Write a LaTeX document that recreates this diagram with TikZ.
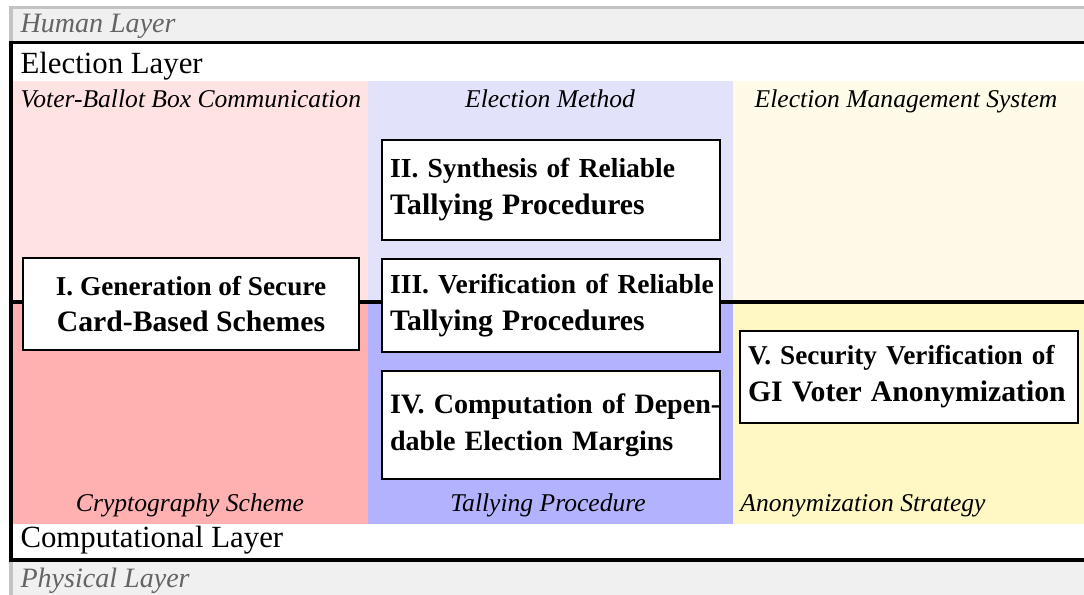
\documentclass[tikz,border=0pt]{standalone}
\usepackage{fontspec}
\setmainfont{Liberation Serif}
\usetikzlibrary{positioning}
\definecolor{cHum}{RGB}{240,240,240}
\definecolor{cHumLine}{RGB}{195,195,195}
\definecolor{cHumText}{RGB}{100,100,100}
\definecolor{cCryHi}{RGB}{255,226,226}
\definecolor{cCryLo}{RGB}{255,176,176}
\definecolor{cTalHi}{RGB}{226,226,250}
\definecolor{cTalLo}{RGB}{178,178,255}
\definecolor{cAnoHi}{RGB}{255,251,232}
\definecolor{cAnoLo}{RGB}{255,248,196}

\begin{document}
\begin{tikzpicture}[x=0.3636pt, y=-0.3636pt,
    layerline/.style={line width=1.1pt},
    layername/.style={anchor=base west, inner sep=0pt, font=\fontsize{11.2}{13}\selectfont},
    outername/.style={layername, text=cHumText, font=\fontsize{10.2}{12}\selectfont\itshape},
    domname/.style={anchor=base, inner sep=0pt, font=\fontsize{9.3}{11}\selectfont\itshape},
    taskbox/.style={draw, line width=0.75pt, fill=white, align=left,
      inner xsep=2.9pt, inner ysep=0pt, font=\bfseries\fontsize{10}{13.4}\selectfont}]
  \useasboundingbox (0,0) rectangle (1084,595);
  \clip (0,0) rectangle (1084,595);

  % human / physical layer
  \draw[cHumLine, fill=cHum, line width=1.1pt] (11,8) rectangle (1110,620);

  % election and computational layer
  \fill[white] (11,43) rectangle (1110,560);
  \fill[cCryHi] (12,81) rectangle (368,302);
  \fill[cTalHi] (368,81) rectangle (733,302);
  \fill[cAnoHi] (733,81) rectangle (1110,302);
  \fill[cCryLo] (12,302) rectangle (368,524);
  \fill[cTalLo] (368,302) rectangle (733,524);
  \fill[cAnoLo] (733,302) rectangle (1110,524);
  \draw[layerline] (11,43) rectangle (1110,302);
  \draw[layerline] (11,302) rectangle (1110,560);

  \node[outername] (humLayer) at (20,33) {Human Layer};
  \node[layername] (elecLayer) at (20,74) {Election Layer};
  \node[layername] (compLayer) at (20,548) {Computational Layer};
  \node[outername] (physLayer) at (20,588) {Physical Layer};

  \node[domname, anchor=base west] (voterBox) at (20,108) {Voter-Ballot Box Communication};
  \node[domname] (elecMethod) at (550,108) {Election Method};
  \node[domname] (elecMgmt) at (906,108) {Election Management System};
  \node[domname] (cryptScheme) at (190,512) {Cryptography Scheme};
  \node[domname] (tallyProc) at (548,512) {Tallying Procedure};
  \node[domname] (anonStrat) at (863,512) {Anonymization Strategy};

  % contributions
  \node[taskbox, align=center, minimum width=122.2pt, minimum height=33.5pt] (genScheme) at (191,304)
    {\mbox{\fontsize{9.9}{13}\selectfont I. Generation of Secure}\\\mbox{\fontsize{10.8}{13}\selectfont Card-Based Schemes}};
  \node[taskbox, text width=117pt, minimum height=36.4pt] (synTally) at (551,190)
    {\mbox{\fontsize{10}{13.8}\selectfont II. Synthesis of Reliable}\\\mbox{\fontsize{10.8}{13.8}\selectfont Tallying Procedures}};
  \node[taskbox, text width=117pt, minimum height=33.8pt, below=6.2pt of synTally] (verTally)
    {\mbox{\fontsize{10}{13.8}\selectfont III. Verification of Reliable}\\\mbox{\fontsize{10.8}{13.8}\selectfont Tallying Procedures}};
  \node[taskbox, text width=117pt, minimum height=39.3pt, below=6.2pt of verTally] (compMargin)
    {\mbox{\fontsize{10.2}{13.8}\selectfont IV. Computation of Depen-}\\\mbox{\fontsize{10.2}{13.8}\selectfont dable Election Margins}};
  \node[taskbox, text width=117pt, minimum height=33.5pt] (secAnon) at (909,377)
    {\mbox{\fontsize{9.9}{13.8}\selectfont V. Security Verification of}\\\mbox{\fontsize{10.8}{13.8}\selectfont GI Voter Anonymization}};
\end{tikzpicture}
\end{document}
